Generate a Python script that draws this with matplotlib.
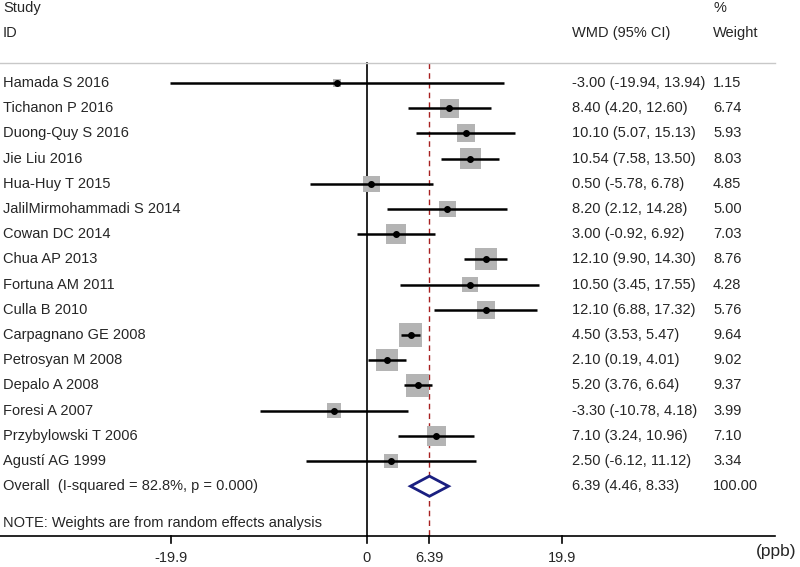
import matplotlib
matplotlib.use("Agg")
import matplotlib.pyplot as plt
import matplotlib.transforms as mtransforms

plt.rcParams['font.family'] = ['Liberation Sans', 'DejaVu Sans']

studies = ["Hamada S 2016", "Tichanon P 2016", "Duong-Quy S 2016", "Jie Liu 2016",
           "Hua-Huy T 2015", "JalilMirmohammadi S 2014", "Cowan DC 2014", "Chua AP 2013",
           "Fortuna AM 2011", "Culla B 2010", "Carpagnano GE 2008", "Petrosyan M 2008",
           "Depalo A 2008", "Foresi A 2007", "Przybylowski T 2006", "Agustí AG 1999"]
wmd = [-3.00, 8.40, 10.10, 10.54, 0.50, 8.20, 3.00, 12.10, 10.50, 12.10, 4.50, 2.10, 5.20, -3.30, 7.10, 2.50]
ci_low = [-19.94, 4.20, 5.07, 7.58, -5.78, 2.12, -0.92, 9.90, 3.45, 6.88, 3.53, 0.19, 3.76, -10.78, 3.24, -6.12]
ci_high = [13.94, 12.60, 15.13, 13.50, 6.78, 14.28, 6.92, 14.30, 17.55, 17.32, 5.47, 4.01, 6.64, 4.18, 10.96, 11.12]
weights = [1.15, 6.74, 5.93, 8.03, 4.85, 5.00, 7.03, 8.76, 4.28, 5.76, 9.64, 9.02, 9.37, 3.99, 7.10, 3.34]

overall_label = "Overall  (I-squared = 82.8%, p = 0.000)"
overall = [6.39, 4.46, 8.33, 100.00]
xticks = [-19.9, 0, 6.39, 19.9]
xtick_labels = ["-19.9", "0", "6.39", "19.9"]

fig = plt.figure(figsize=(8, 5.67), dpi=100)
ax = fig.add_axes([0, 0, 1, 1])
ax.set_xlim(-37.25, 44.05)
ax.set_ylim(19.206, -3.294)
ax.axis('off')

tr = mtransforms.blended_transform_factory(ax.transAxes, ax.transData)
fs = 10.5
tc = '#262626'
x_lab = 3/800
x_wmd = 572/800
x_w = 713/800

# headers
ax.text(x_lab, -2.98, "Study", transform=tr, fontsize=fs, color=tc, va='center')
ax.text(x_lab, -1.98, "ID", transform=tr, fontsize=fs, color=tc, va='center')
ax.text(x_wmd, -1.98, "WMD (95% CI)", transform=tr, fontsize=fs, color=tc, va='center')
ax.text(x_w, -2.98, "%", transform=tr, fontsize=fs, color=tc, va='center')
ax.text(x_w, -1.98, "Weight", transform=tr, fontsize=fs, color=tc, va='center')

top_y = -0.794
bot_y = 17.976

# top separator
ax.plot([0, 775/800], [top_y, top_y], transform=tr, color='#c8c8c8', lw=1)

n = len(studies)
rows = list(range(n))
# squares
ax.scatter(wmd, rows, s=[28.6 * w for w in weights], marker='s', color='#b4b4b4', zorder=2, linewidths=0)
# CI lines
for i in rows:
    ax.plot([ci_low[i], ci_high[i]], [i, i], color='black', lw=1.8, zorder=3, solid_capstyle='butt')
ax.plot(wmd, rows, 'o', color='black', ms=4, zorder=4)

for i in rows:
    ax.text(x_lab, i, studies[i], transform=tr, fontsize=fs, color=tc, va='center')
    ax.text(x_wmd, i, f"{wmd[i]:.2f} ({ci_low[i]:.2f}, {ci_high[i]:.2f})", transform=tr,
            fontsize=fs, color=tc, va='center')
    ax.text(x_w, i, f"{weights[i]:.2f}", transform=tr, fontsize=fs, color=tc, va='center')

# overall
oy = n
ax.text(x_lab, oy, overall_label, transform=tr, fontsize=fs, color=tc, va='center')
ax.text(x_wmd, oy, f"{overall[0]:.2f} ({overall[1]:.2f}, {overall[2]:.2f})", transform=tr,
        fontsize=fs, color=tc, va='center')
ax.text(x_w, oy, f"{overall[3]:.2f}", transform=tr, fontsize=fs, color=tc, va='center')
dh = 0.4
ax.fill([overall[1], overall[0], overall[2], overall[0], overall[1]],
        [oy, oy - dh, oy, oy + dh, oy], facecolor='white', edgecolor='#1a1f80', lw=2, zorder=5)

ax.text(x_lab, 17.46, "NOTE: Weights are from random effects analysis", transform=tr,
        fontsize=fs, color=tc, va='center')

# reference lines
ax.plot([0, 0], [top_y, bot_y], color='black', lw=1.2, zorder=1)
ax.plot([overall[0], overall[0]], [top_y, bot_y], color='#a82020', lw=1, ls=(0, (4, 3)), zorder=1)

# bottom axis
ax.plot([0, 775/800], [bot_y, bot_y], transform=tr, color='black', lw=1.2)
for t, lab in zip(xticks, xtick_labels):
    ax.plot([t, t], [bot_y, 18.25], color='black', lw=1.2)
    ax.text(t, 18.85, lab, ha='center', va='center', fontsize=fs, color=tc)
ax.text(796/800, 18.6, "(ppb)", transform=tr, ha='right', va='center', fontsize=12.5, color=tc)

fig.savefig("out.png", dpi=100)
